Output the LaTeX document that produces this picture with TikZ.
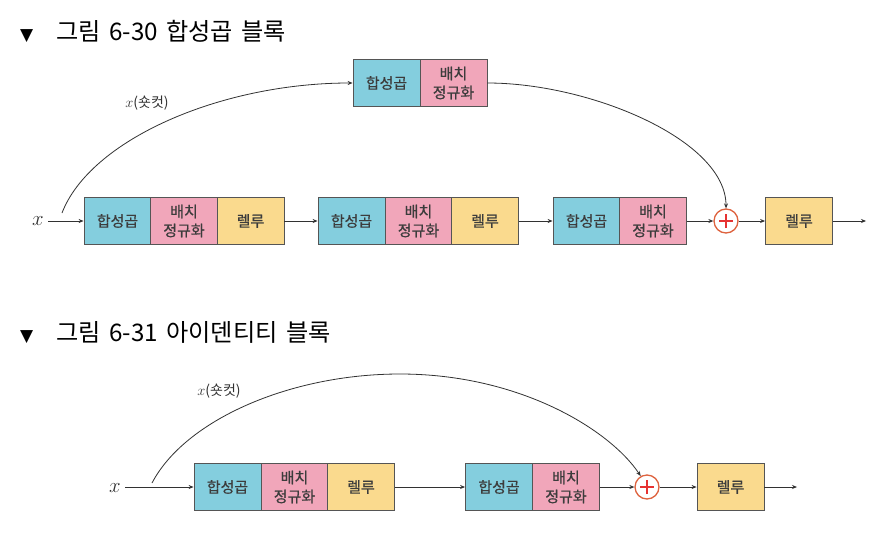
\documentclass[tikz,border=0pt]{standalone}
\usepackage{fontspec}
\setmainfont{Noto Sans CJK KR}
\newfontfamily\boxfont[FakeBold=0.7]{Noto Sans CJK KR}
\newfontfamily\symfont{DejaVu Sans}
\usetikzlibrary{arrows.meta}
\definecolor{cblue}{RGB}{132,206,222}
\definecolor{cpink}{RGB}{241,166,186}
\definecolor{cyellow}{RGB}{250,218,142}
\definecolor{cedge}{RGB}{85,85,85}
\definecolor{ctext}{RGB}{60,60,60}
\definecolor{cline}{RGB}{50,50,50}
\definecolor{cring}{RGB}{222,98,62}
\definecolor{cplus}{RGB}{230,50,50}
\tikzset{
  blk/.style={draw=cedge, line width=0.8pt, minimum height=47pt, minimum width=67pt,
    inner sep=0pt, align=center, text=ctext, font=\boxfont\fontsize{15}{19}\selectfont},
  conv/.style={blk, fill=cblue},
  bn/.style={blk, fill=cpink},
  relu/.style={blk, fill=cyellow},
  addc/.style={circle, draw=cring, line width=1.3pt, minimum size=24pt, inner sep=0pt, fill=white,
    path picture={\draw[cplus, line width=1.3pt] ([xshift=-7pt]path picture bounding box.center) -- ([xshift=7pt]path picture bounding box.center);
      \draw[cplus, line width=1.3pt] ([yshift=-7pt]path picture bounding box.center) -- ([yshift=7pt]path picture bounding box.center);}},
  arr/.style={draw=cline, line width=0.8pt, -{Stealth[length=5pt,width=4pt]}},
  ttl/.style={anchor=west, inner sep=0pt, font=\fontsize{24.2}{27}\selectfont, text=black},
  xlab/.style={inner sep=0pt, font=\fontsize{20}{20}\selectfont, text=cline},
  sclab/.style={inner sep=0pt, font=\fontsize{14}{14}\selectfont, text=cline}
}
\begin{document}
\begin{tikzpicture}[x=1pt,y=-1pt]
\useasboundingbox[fill=white] (0,0) rectangle (885,538);

% ---------- Figure 6-30 ----------
\node[ttl] (t1) at (20,31) {{\symfont\fontsize{17}{20}\selectfont ▼}\hspace{23pt}그림\hspace{3pt} 6-30\hspace{3pt} 합성곱\hspace{3pt} 블록};

\node[conv] (sc1) at (386.5,83) {합성곱};
\node[bn] (sc2) at (453.5,83) {배치\\정규화};

\node[xlab] (x1) at (38,221) {$x$};
\coordinate (x1s) at (48,221);
\coordinate (x1c) at (62,213);
\node[conv] (a1) at (117.5,221) {합성곱};
\node[bn] (a2) at (184,221) {배치\\정규화};
\node[relu] (a3) at (250.5,221) {렐루};
\node[conv] (b1) at (351.5,221) {합성곱};
\node[bn] (b2) at (418.5,221) {배치\\정규화};
\node[relu] (b3) at (485,221) {렐루};
\node[conv] (c1) at (586.5,221) {합성곱};
\node[bn] (c2) at (653,221) {배치\\정규화};
\node[addc] (p1) at (726,221) {};
\node[relu] (r1) at (799,221) {렐루};
\coordinate (o1) at (866,221);

\draw[arr] (x1s) -- (a1.west);
\draw[arr] (a3.east) -- (b1.west);
\draw[arr] (b3.east) -- (c1.west);
\draw[arr] (c2.east) -- (p1.west);
\draw[arr] (p1.east) -- (r1.west);
\draw[arr] (r1.east) -- (o1);
\draw[arr] (x1c) .. controls (90,140) and (220,83) .. (sc1.west);
\draw[arr] (sc2.east) .. controls (590,83) and (726,140) .. (p1.north);
\node[sclab] (l1) at (147,103) {$x$(숏컷)};

% ---------- Figure 6-31 ----------
\node[ttl] (t2) at (20,333) {{\symfont\fontsize{17}{20}\selectfont ▼}\hspace{23pt}그림\hspace{3pt} 6-31\hspace{3pt} 아이덴티티\hspace{3pt} 블록};

\node[xlab] (x2) at (115,488) {$x$};
\coordinate (x2s) at (125,487);
\coordinate (x2c) at (152,483);
\coordinate (top2) at (400,374);
\node[conv] (d1) at (227.5,487) {합성곱};
\node[bn] (d2) at (294.5,487) {배치\\정규화};
\node[relu] (d3) at (361,487) {렐루};
\node[conv] (e1) at (499,487) {합성곱};
\node[bn] (e2) at (566,487) {배치\\정규화};
\node[addc] (p2) at (647,487) {};
\node[relu] (r2) at (730.5,487) {렐루};
\coordinate (o2) at (797,487);

\draw[arr] (x2s) -- (d1.west);
\draw[arr] (d3.east) -- (e1.west);
\draw[arr] (e2.east) -- (p2.west);
\draw[arr] (p2.east) -- (r2.west);
\draw[arr] (r2.east) -- (o2);
\draw[arr] (x2c) .. controls (185,420) and (290,374) .. (top2) .. controls (520,374) and (610,430) .. (p2.120);
\node[sclab] (l2) at (219,391) {$x$(숏컷)};
\end{tikzpicture}
\end{document}
